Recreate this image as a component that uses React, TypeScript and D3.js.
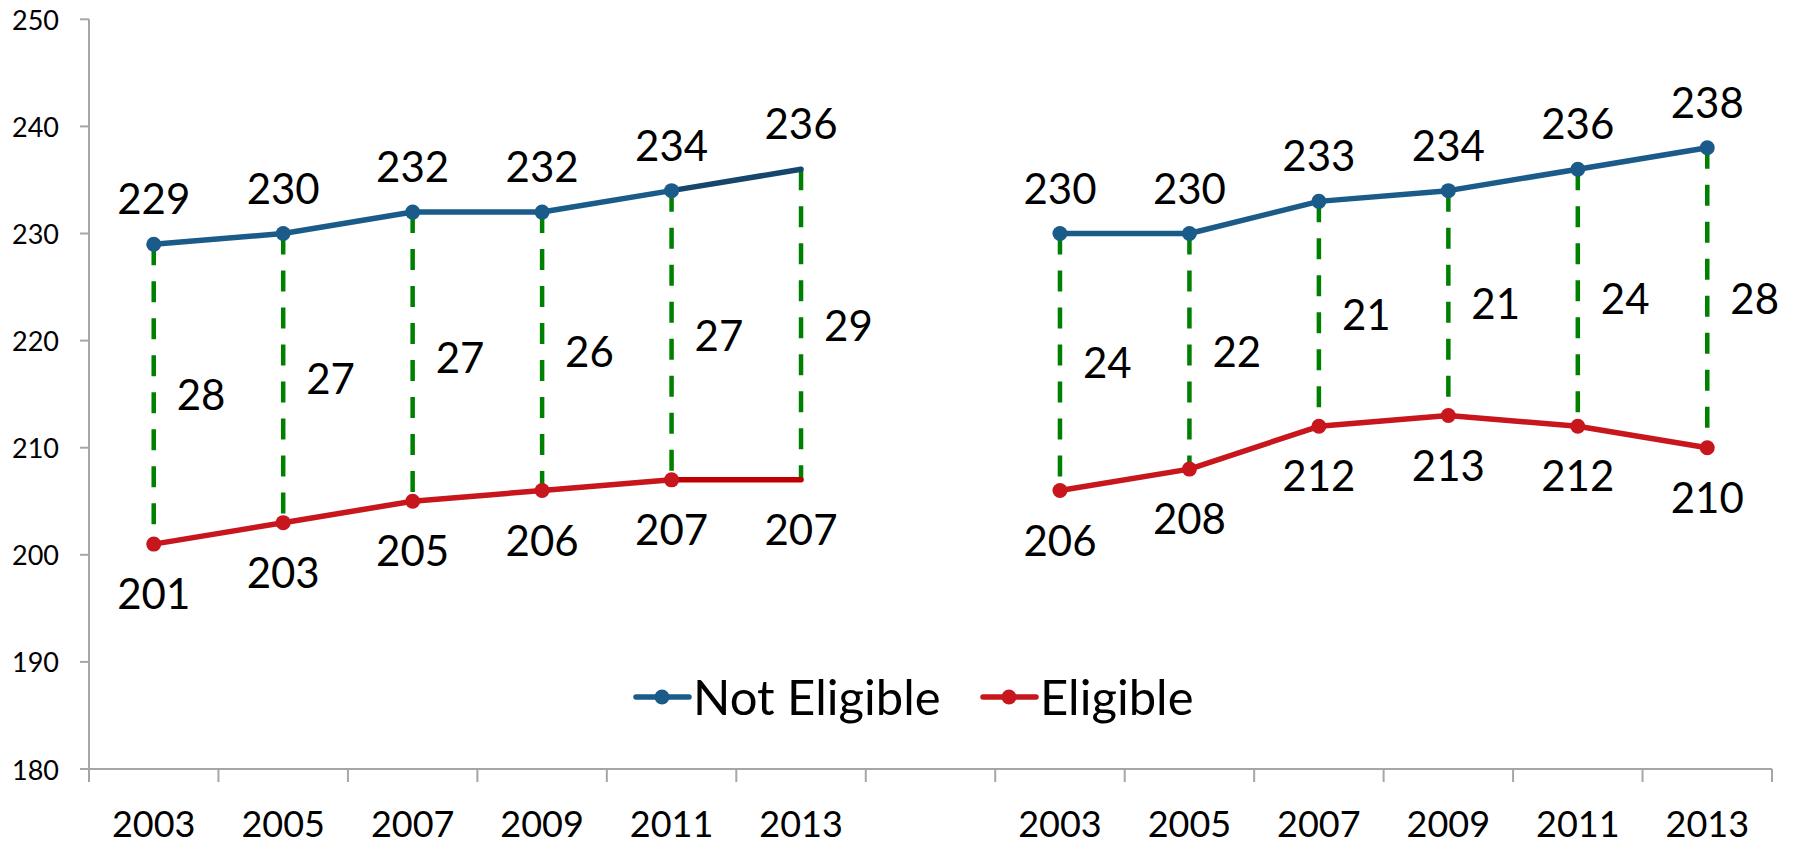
import React from "react";
import * as d3 from "d3";

const years = ["2003", "2005", "2007", "2009", "2011", "2013"];
const categories = [
  ...years.map((y) => "L" + y),
  "gap",
  ...years.map((y) => "R" + y),
];
const leftNotEligible = [229, 230, 232, 232, 234, 236];
const leftEligible = [201, 203, 205, 206, 207, 207];
const leftGap = [28, 27, 27, 26, 27, 29];
const rightNotEligible = [230, 230, 233, 234, 236, 238];
const rightEligible = [206, 208, 212, 213, 212, 210];
const rightGap = [24, 22, 21, 21, 24, 28];
const yTicks = [180, 190, 200, 210, 220, 230, 240, 250];
const seriesNames = ["Not Eligible", "Eligible"];

const W = 1795;
const H = 846;
const BLUE = "#1B5B89";
const BLUE_DARK = "#16466B";
const RED = "#C8161D";
const RED_DARK = "#C00000";
const GREEN = "#008000";
const AXIS = "#A6A6A6";
const FONT = "Lato, 'Open Sans', sans-serif";

export default function App() {
  const x = d3.scaleBand<string>().domain(categories).range([89, 1772]).padding(0);
  const y = d3.scaleLinear().domain([180, 250]).range([769, 19.3]);
  const cx = (k: string) => (x(k) as number) + x.bandwidth() / 2;
  const line = d3
    .line<[number, number]>()
    .x((d) => d[0])
    .y((d) => d[1]);

  const panels = [
    { prefix: "L", top: leftNotEligible, bottom: leftEligible, gap: leftGap, lastPlain: true },
    { prefix: "R", top: rightNotEligible, bottom: rightEligible, gap: rightGap, lastPlain: false },
  ];

  const labelSize = 42;

  return (
    <svg
      width={W}
      height={H}
      style={{ position: "absolute", left: 0, top: 0, background: "#fff" }}
      fontFamily={FONT}
    >
      {/* Y axis */}
      <line x1={89} x2={89} y1={y(250)} y2={y(180)} stroke={AXIS} strokeWidth={2} />
      {yTicks.map((t) => (
        <g key={t}>
          <line x1={80} x2={89} y1={y(t)} y2={y(t)} stroke={AXIS} strokeWidth={2} />
          <text x={59} y={y(t)} textAnchor="end" dominantBaseline="central" fontSize={27} fill="#000">
            {t}
          </text>
        </g>
      ))}
      {/* X axis */}
      <line x1={89} x2={1772} y1={y(180)} y2={y(180)} stroke={AXIS} strokeWidth={2} />
      {categories.map((c) => (
        <line
          key={"t" + c}
          x1={x(c) as number}
          x2={x(c) as number}
          y1={y(180)}
          y2={y(180) + 13}
          stroke={AXIS}
          strokeWidth={2}
        />
      ))}
      <line x1={1772} x2={1772} y1={y(180)} y2={y(180) + 13} stroke={AXIS} strokeWidth={2} />
      {categories
        .filter((c) => c !== "gap")
        .map((c) => (
          <text key={"xl" + c} x={cx(c)} y={837} textAnchor="middle" fontSize={36} fill="#000">
            {c.slice(1)}
          </text>
        ))}

      {panels.map((p) => {
        const keys = years.map((yr) => p.prefix + yr);
        const topPts: [number, number][] = keys.map((k, i) => [cx(k), y(p.top[i])]);
        const botPts: [number, number][] = keys.map((k, i) => [cx(k), y(p.bottom[i])]);
        const n = keys.length;
        const mainTop = p.lastPlain ? topPts.slice(0, n - 1) : topPts;
        const mainBot = p.lastPlain ? botPts.slice(0, n - 1) : botPts;
        return (
          <g key={p.prefix}>
            {/* dashed gap lines */}
            {keys.map((k, i) => (
              <line
                key={"d" + k}
                x1={cx(k)}
                x2={cx(k)}
                y1={y(p.top[i])}
                y2={y(p.bottom[i])}
                stroke={GREEN}
                strokeWidth={4.5}
                strokeDasharray="21,16"
              />
            ))}
            {/* lines */}
            <path d={line(mainTop) || ""} fill="none" stroke={BLUE} strokeWidth={5.5} strokeLinejoin="round" strokeLinecap="round" />
            <path d={line(mainBot) || ""} fill="none" stroke={RED} strokeWidth={5.5} strokeLinejoin="round" strokeLinecap="round" />
            {p.lastPlain && (
              <>
                <path d={line(topPts.slice(n - 2)) || ""} fill="none" stroke={BLUE_DARK} strokeWidth={5.5} strokeLinecap="round" />
                <path d={line(botPts.slice(n - 2)) || ""} fill="none" stroke={RED_DARK} strokeWidth={5.5} strokeLinecap="round" />
              </>
            )}
            {/* markers */}
            {mainTop.map((pt, i) => (
              <circle key={"mt" + i} cx={pt[0]} cy={pt[1]} r={7.5} fill={BLUE} />
            ))}
            {mainBot.map((pt, i) => (
              <circle key={"mb" + i} cx={pt[0]} cy={pt[1]} r={7.5} fill={RED} />
            ))}
            {/* labels */}
            {keys.map((k, i) => (
              <g key={"l" + k}>
                <text x={cx(k)} y={y(p.top[i]) - 30} textAnchor="middle" fontSize={labelSize} fill="#000">
                  {p.top[i]}
                </text>
                <text x={cx(k)} y={y(p.bottom[i]) + 65} textAnchor="middle" fontSize={labelSize} fill="#000">
                  {p.bottom[i]}
                </text>
                <text
                  x={cx(k) + 23}
                  y={(y(p.top[i]) + y(p.bottom[i])) / 2}
                  dominantBaseline="central"
                  fontSize={labelSize}
                  fill="#000"
                >
                  {p.gap[i]}
                </text>
              </g>
            ))}
          </g>
        );
      })}

      {/* legend */}
      <g>
        <line x1={636} x2={689} y1={697} y2={697} stroke={BLUE} strokeWidth={5.5} strokeLinecap="round" />
        <circle cx={662} cy={697} r={7.5} fill={BLUE} />
        <text x={693} y={715} fontSize={49} fill="#000">
          {seriesNames[0]}
        </text>
        <line x1={983} x2={1036} y1={697} y2={697} stroke={RED} strokeWidth={5.5} strokeLinecap="round" />
        <circle cx={1009} cy={697} r={7.5} fill={RED} />
        <text x={1040} y={715} fontSize={49} fill="#000">
          {seriesNames[1]}
        </text>
      </g>
    </svg>
  );
}
